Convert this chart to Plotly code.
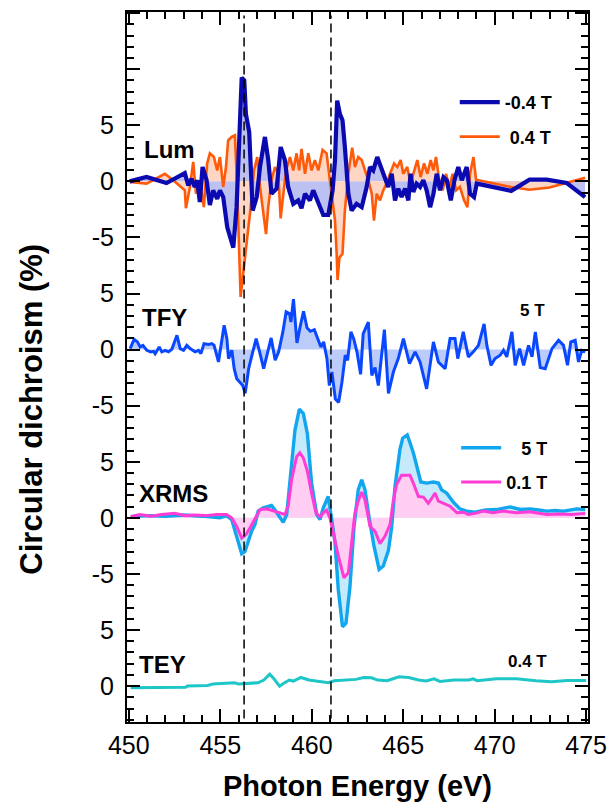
import plotly.graph_objects as go

FONT = "Liberation Sans, Arial, sans-serif"

# ---------------- data (Photon energy in eV, circular dichroism in %) ----------------
lum_neg_energy = [450.05, 450.97, 452.06, 453.06, 453.25, 453.43, 453.6, 453.74, 453.88, 454.03,
                  454.25, 454.43, 454.61, 454.83, 454.98, 455.16, 455.38, 455.71, 455.89, 456.17,
                  456.31, 456.4, 456.58, 456.77, 456.99, 457.17, 457.44, 457.62, 457.8, 458.08,
                  458.3, 458.53, 458.71, 458.99, 459.26, 459.44, 459.63, 459.9, 460.08, 460.36,
                  460.63, 460.9, 461.14, 461.27, 461.39, 461.54, 461.68, 461.81, 462.0, 462.18,
                  462.45, 462.73, 463.0, 463.18, 463.36, 463.58, 463.77, 464.0, 464.18, 464.37,
                  464.55, 464.73, 464.91, 465.1, 465.28, 465.4, 465.55, 465.73, 465.92, 466.1,
                  466.28, 466.47, 466.65, 466.83, 467.01, 467.2, 467.38, 467.6, 467.8, 468.01,
                  468.2, 468.47, 468.65, 468.87, 469.02, 470.9, 471.9, 472.85, 473.94, 474.94]
lum_neg_cd = [0.0, 0.4, -0.15, 0.74, -0.36, 0.24, -0.5, 0.1, -1.85, 1.28,
              0.1, -2.1, -0.8, -1.55, -0.8, -1.4, -4.1, -5.9, -2.3, 9.25,
              9.0, 6.0, 4.4, -2.6, -1.4, 1.28, 3.96, 1.9, -1.1, -0.65,
              3.06, 1.9, -0.5, -2.0, -1.7, -2.4, -1.1, -1.7, -0.8, -2.0,
              -3.0, -3.0, -0.8, 1.9, 7.2, 6.0, 5.45, 3.06, -1.1, -2.6,
              -2.0, -2.3, -0.5, 1.28, 0.98, 2.17, 1.28, 0.38, -0.5, 0.68,
              -1.7, -0.65, -1.4, -0.65, -1.7, 0.68, -0.95, -0.2, -0.5, 0.1,
              -0.8, -2.3, -1.1, 0.68, -0.8, 0.38, 0.1, -1.7, 0.1, 1.28,
              0.1, 1.28, -1.1, -1.4, -0.2, -0.85, 0.15, 0.15, -0.15, -1.4]

lum_pos_energy = [450.05, 450.97, 451.97, 452.43, 453.06, 453.12, 453.34, 453.52, 453.67, 453.88,
                  454.1, 454.28, 454.43, 454.65, 454.83, 454.98, 455.16, 455.31, 455.43, 455.62,
                  455.8, 455.92, 456.11, 456.35, 456.53, 456.66, 456.84, 457.02, 457.17, 457.35,
                  457.5, 457.62, 457.8, 457.99, 458.17, 458.3, 458.44, 458.59, 458.81, 458.99,
                  459.17, 459.31, 459.44, 459.63, 459.81, 459.99, 460.17, 460.36, 460.59, 460.81,
                  460.99, 461.14, 461.27, 461.36, 461.41, 461.51, 461.68, 461.81, 462.0, 462.21,
                  462.36, 462.54, 462.73, 462.91, 463.09, 463.28, 463.4, 463.55, 463.73, 463.91,
                  464.09, 464.28, 464.5, 464.68, 464.86, 465.0, 465.22, 465.4, 465.59, 465.77,
                  465.95, 466.14, 466.32, 466.5, 466.65, 466.79, 466.97, 467.16, 467.34, 467.52,
                  467.7, 467.89, 468.1, 468.33, 468.51, 468.65, 468.84, 468.98, 470.9, 471.9,
                  473.0, 473.94, 474.94]
lum_pos_cd = [-0.06, -0.2, 0.68, 0.1, -0.8, -2.4, -0.5, 1.74, -1.1, 0.1,
              -2.3, 1.6, 2.5, 2.17, 0.98, 2.17, -0.5, 1.28, 3.66, 3.96,
              4.1, -0.5, -10.3, -7.05, -4.4, -2.3, 0.98, 2.17, -0.5, -2.9,
              -4.7, -2.3, 0.1, 1.28, 0.68, -3.3, -1.1, 0.98, 2.17, 0.98,
              2.5, 0.98, 2.9, 0.68, 2.5, 0.98, 1.9, 0.98, 2.8, 2.5,
              0.1, -1.7, -3.5, -6.45, -8.8, -6.8, -6.45, -2.6, 0.68, 3.0,
              1.28, 2.17, 1.9, 0.98, 0.1, -1.1, -3.5, -1.1, -1.7, -0.8,
              -0.2, 0.68, 1.6, 1.28, 1.9, 0.68, 1.28, -0.2, 0.98, 1.9,
              0.38, 1.6, 0.68, 1.9, 0.98, 2.17, 0.1, -0.8, 0.68, -0.5,
              0.68, -0.8, -0.5, -1.7, -2.3, 0.68, 2.17, 0.15, -0.5, -0.75,
              -0.55, -0.15, 0.33]

tfy_energy = [450.07, 450.29, 450.47, 450.62, 450.77, 450.98, 451.2, 451.35, 451.44, 451.66,
              451.8, 451.99, 452.17, 452.35, 452.63, 452.81, 452.99, 453.17, 453.35, 453.62,
              453.81, 453.94, 454.11, 454.36, 454.54, 454.66, 454.9, 455.21, 455.36, 455.45,
              455.63, 455.76, 455.9, 456.08, 456.23, 456.36, 456.55, 456.73, 456.96, 457.15,
              457.37, 457.55, 457.78, 458.0, 458.19, 458.42, 458.6, 458.79, 458.86, 459.0,
              459.19, 459.37, 459.55, 459.74, 459.92, 460.14, 460.32, 460.5, 460.65, 460.83,
              460.96, 461.1, 461.29, 461.47, 461.65, 461.83, 461.96, 462.14, 462.29, 462.47,
              462.67, 462.81, 463.09, 463.28, 463.46, 463.64, 463.97, 464.19, 464.46, 464.73,
              465.01, 465.34, 465.65, 465.92, 466.28, 466.65, 466.92, 467.29, 467.56, 467.83,
              467.98, 468.28, 468.56, 468.83, 469.11, 469.42, 469.57, 469.8, 470.02, 470.3,
              470.48, 470.66, 470.94, 471.12, 471.36, 471.58, 471.85, 472.04, 472.22, 472.49,
              472.76, 473.13, 473.49, 473.76, 473.98, 474.16, 474.4, 474.58, 474.76, 474.95]
tfy_cd = [0.09, 0.92, 0.69, 0.24, 0.38, -0.06, -0.2, -0.15, -0.36, 0.24,
          -0.2, -0.06, -0.2, 0.03, 1.28, 0.09, -0.06, 0.38, 0.09, -0.2,
          -0.06, -0.36, 0.53, 0.45, 0.53, 0.38, -1.1, 2.17, 0.98, -0.8,
          -0.06, -1.7, -2.6, -2.9, -3.2, -3.9, -1.7, -0.5, 0.98, -0.2,
          -1.7, -0.5, 1.04, -0.95, -0.2, 1.58, 3.37, 3.2, 2.45, 4.5,
          0.6, 2.08, 3.42, 1.94, 1.63, 1.78, 0.98, 0.24, 0.69, -0.8,
          -3.2, -2.0, -4.4, -4.7, -2.9, -0.5, -0.95, 1.58, 0.98, -0.2,
          -2.2, 1.4, 2.45, -2.3, -1.6, -3.2, 1.78, -3.9, -2.0, -0.8,
          0.98, -1.25, -0.2, -1.1, -3.5, 0.69, -1.1, -1.7, 0.98, 0.98,
          -0.8, 1.58, -0.65, -0.2, 0.38, 2.3, 0.38, -1.4, -0.8, -0.5,
          -0.06, -0.65, 1.58, -1.4, 0.09, -1.4, 0.38, -0.65, 1.58, -1.6,
          -1.7, 0.09, 0.83, 0.38, -1.4, 0.69, 0.83, -1.1, -0.06, -0.2]

xrms_5t_energy = [450.1, 451.0, 452.0, 453.0, 454.0, 454.98, 455.34, 455.62, 455.89, 456.17,
                  456.35, 456.53, 456.71, 456.89, 457.07, 457.35, 457.8, 457.99, 458.26, 458.44,
                  458.63, 458.81, 459.08, 459.32, 459.54, 459.76, 459.99, 460.27, 460.45, 460.63,
                  460.9, 461.09, 461.27, 461.45, 461.68, 461.87, 462.09, 462.31, 462.54, 462.73,
                  462.91, 463.15, 463.4, 463.68, 463.91, 464.19, 464.37, 464.55, 464.82, 464.97,
                  465.22, 465.37, 465.55, 465.74, 465.96, 466.28, 466.65, 466.92, 467.1, 467.38,
                  467.74, 468.1, 468.47, 468.93, 469.5, 470.1, 470.84, 471.4, 471.94, 472.4,
                  472.85, 473.3, 473.76, 474.49, 474.95]
xrms_5t_cd = [0.1, 0.2, 0.15, 0.25, 0.15, 0.0, 0.2, -0.15, -1.65, -3.2,
              -3.0, -1.96, -1.2, -0.6, 0.6, 0.9, 1.1, 0.7, 0.0, -0.4,
              0.3, 3.1, 7.8, 9.7, 9.3, 7.5, 3.1, 0.3, -0.15, 0.9,
              1.9, -0.15, -2.2, -6.4, -9.7, -9.4, -6.1, -0.8, 2.5, 3.4,
              2.5, -0.15, -2.5, -4.6, -4.3, -2.9, -0.8, 2.8, 6.1, 7.1,
              7.4, 6.7, 5.8, 4.6, 3.2, 3.1, 3.2, 3.1, 2.5, 2.2,
              1.4, 0.8, 0.6, 0.5, 0.7, 0.74, 0.98, 0.75, 0.8, 0.7,
              0.6, 0.65, 0.6, 0.8, 0.74]

xrms_01t_energy = [450.1, 450.6, 451.2, 451.8, 452.5, 453.1, 453.6, 454.2, 454.8, 455.34,
                   455.62, 455.89, 456.17, 456.4, 456.62, 456.89, 457.17, 457.53, 457.89, 458.26,
                   458.53, 458.71, 458.9, 459.17, 459.35, 459.54, 459.76, 459.99, 460.23, 460.45,
                   460.63, 460.81, 460.99, 461.18, 461.45, 461.76, 462.0, 462.18, 462.36, 462.54,
                   462.73, 462.91, 463.18, 463.46, 463.73, 464.0, 464.28, 464.46, 464.64, 464.91,
                   465.37, 465.55, 465.83, 466.1, 466.37, 466.56, 466.74, 466.92, 467.2, 467.56,
                   467.93, 468.28, 468.56, 468.93, 469.38, 469.9, 470.48, 471.2, 471.9, 472.85,
                   473.5, 474.2, 474.95]
xrms_01t_cd = [0.1, 0.3, 0.15, 0.3, 0.4, 0.2, 0.25, 0.2, 0.3, 0.3,
               0.0, -0.75, -1.8, -1.5, -0.9, -0.15, 0.74, 0.8, 0.6, 0.45,
               0.3, 1.04, 3.4, 5.45, 5.8, 5.35, 4.15, 2.2, 0.45, 0.1,
               0.45, 0.68, 0.0, -1.34, -3.4, -5.35, -4.9, -2.2, 0.45, 1.5,
               2.3, 1.6, -0.75, -1.2, -2.3, -1.65, -0.6, 1.6, 3.0, 3.8,
               3.8, 3.1, 1.9, 1.85, 1.3, 1.75, 2.2, 1.5, 1.3, 1.04,
               0.45, 0.5, 0.3, 0.4, 0.6, 0.45, 0.6, 0.45, 0.55, 0.3,
               0.35, 0.3, 0.4]

tey_energy = [450.1, 453.1, 453.2, 454.3, 454.6, 455.78, 456.0, 456.42, 457.06, 457.38,
              457.7, 457.92, 458.24, 458.45, 458.77, 458.99, 459.41, 459.84, 460.38, 460.91,
              461.23, 461.77, 462.41, 462.84, 463.27, 463.59, 464.12, 464.77, 465.3, 465.83,
              466.26, 466.69, 467.0, 467.76, 468.6, 468.82, 469.04, 470.1, 471.18, 472.25,
              473.1, 473.96, 475.0]
tey_cd = [-0.15, -0.1, 0.0, 0.06, 0.18, 0.3, 0.18, 0.24, 0.3, 0.54,
          1.07, 0.68, 0.0, 0.24, 0.54, 0.45, 0.77, 0.54, 0.45, 0.3,
          0.48, 0.54, 0.6, 0.77, 0.74, 0.54, 0.48, 0.83, 0.77, 0.54,
          0.45, 0.65, 0.42, 0.54, 0.54, 0.65, 0.48, 0.65, 0.65, 0.48,
          0.38, 0.5, 0.5]

edge_energies = [456.3, 461.05]          # L3 / L2 reference lines
panel_names = ["Lum", "TFY", "XRMS", "TEY"]
panel_offsets = [45, 30, 15, 0]          # vertical stacking of the panels
ytick_values = list(range(0, 61, 5))
ytick_labels = ["0", "5", "-5", "0", "5", "-5", "0", "5", "-5", "0", "5", "", ""]
xtick_values = [450, 455, 460, 465, 470, 475]

# ---------------- figure ----------------
fig = go.Figure()


def add_fill(x, y, off, color):
    xs = [x[0]] + list(x) + [x[-1]]
    ys = [off] + [v + off for v in y] + [off]
    fig.add_trace(go.Scatter(x=xs, y=ys, mode="lines", fill="toself", fillcolor=color,
                             line=dict(width=0), hoverinfo="skip", showlegend=False))


def add_line(x, y, off, color, width, name=None, legend=None, rank=None):
    fig.add_trace(go.Scatter(x=x, y=[v + off for v in y], mode="lines",
                             line=dict(color=color, width=width),
                             name=name or "", showlegend=name is not None,
                             legend=legend, legendrank=rank or 1000,
                             legendgroup=name or None))


off_lum, off_tfy, off_xrms, off_tey = panel_offsets

# fills
add_fill(lum_neg_energy, lum_neg_cd, off_lum, "rgba(178,182,238,0.85)")
add_fill(lum_pos_energy, lum_pos_cd, off_lum, "rgba(255,200,175,0.75)")
add_fill(tfy_energy, tfy_cd, off_tfy, "rgba(180,198,250,0.9)")
add_fill(xrms_5t_energy, xrms_5t_cd, off_xrms, "rgb(196,234,252)")
add_fill(xrms_01t_energy, xrms_01t_cd, off_xrms, "rgb(255,206,242)")

# lines
add_line(lum_pos_energy, lum_pos_cd, off_lum, "#FF5A0A", 2.6, "\u00a00.4 T", "legend", 2)
add_line(lum_neg_energy, lum_neg_cd, off_lum, "#0A0AB0", 4.2, "-0.4 T", "legend", 1)
add_line(tfy_energy, tfy_cd, off_tfy, "#0A48FF", 3.0)
add_line(xrms_5t_energy, xrms_5t_cd, off_xrms, "#12A6EE", 3.4, "\u00a0\u00a0\u00a05 T", "legend2", 1)
add_line(xrms_01t_energy, xrms_01t_cd, off_xrms, "#FF3CD6", 3.0, "0.1 T", "legend2", 2)
add_line(tey_energy, tey_cd, off_tey, "#1EC6C8", 3.0)

# dashed edge lines
for e in edge_energies:
    fig.add_shape(type="line", x0=e, x1=e, y0=0.005, y1=0.995, xref="x", yref="paper",
                  line=dict(color="black", width=1.5, dash="9px,5px"))

# panel labels
label_pos = [(450.7, 47.8), (450.6, 32.85), (450.45, 17.2), (450.45, 1.9)]
for name, (lx, ly) in zip(panel_names, label_pos):
    fig.add_annotation(x=lx, y=ly, text=name, showarrow=False, xanchor="left", yanchor="middle",
                       font=dict(family=FONT, size=24, color="black", weight="bold"))
fig.add_annotation(x=472.05, y=33.5, text="5 T", showarrow=False,
                   font=dict(family=FONT, size=17, color="black", weight="bold"))
fig.add_annotation(x=471.8, y=2.2, text="0.4 T", showarrow=False,
                   font=dict(family=FONT, size=17, color="black", weight="bold"))

# y-axis title (placed as a rotated annotation so it sits where the original has it)
fig.add_annotation(x=-0.206, y=0.44, xref="paper", yref="paper", text="Circular dichroism (%)",
                   textangle=-90, showarrow=False, xanchor="center", yanchor="middle",
                   font=dict(family=FONT, size=31, color="black", weight="bold"))

axis_common = dict(showline=True, linecolor="black", linewidth=2, mirror="ticks",
                   ticks="inside", tickcolor="black", tickwidth=1.5, showgrid=False,
                   zeroline=False, tickfont=dict(family=FONT, size=25, color="black"))

fig.update_xaxes(range=[449.9, 475.1], tickmode="array", tickvals=xtick_values, ticklen=13,
                 ticklabeloverflow="allow",
                 minor=dict(tickmode="linear", tick0=450, dtick=1, ticklen=7, ticks="inside",
                            tickcolor="black", tickwidth=1.5),
                 title=dict(text="Photon Energy (eV)", standoff=18,
                            font=dict(family=FONT, size=29, color="black", weight="bold")),
                 **axis_common)
fig.update_yaxes(range=[-3.2, 60.1], tickmode="array", tickvals=ytick_values,
                 ticktext=ytick_labels, ticklen=13, ticklabelstandoff=6,
                 minor=dict(tickmode="linear", tick0=0, dtick=1, ticklen=7, ticks="inside",
                            tickcolor="black", tickwidth=1.5),
                 **axis_common)

legend_style = dict(xanchor="left", yanchor="top", bgcolor="rgba(0,0,0,0)",
                    font=dict(family=FONT, size=18, color="black", weight="bold"),
                    itemwidth=40, tracegroupgap=8)
fig.update_layout(
    width=610, height=809,
    margin=dict(l=127, r=22, t=12, b=87, autoexpand=False),
    paper_bgcolor="white", plot_bgcolor="white",
    legend=dict(x=0.711, y=0.8986, **legend_style),
    legend2=dict(x=0.714, y=0.4120, **legend_style),
)

# remove the page's default 8 px body margin so the 610x809 figure fills the window exactly
fig.write_html("out.html", config={"displayModeBar": False}, post_script=(
    "document.body.style.margin='0';"
    "document.documentElement.style.overflow='hidden';"
    "document.body.style.overflow='hidden';"))
